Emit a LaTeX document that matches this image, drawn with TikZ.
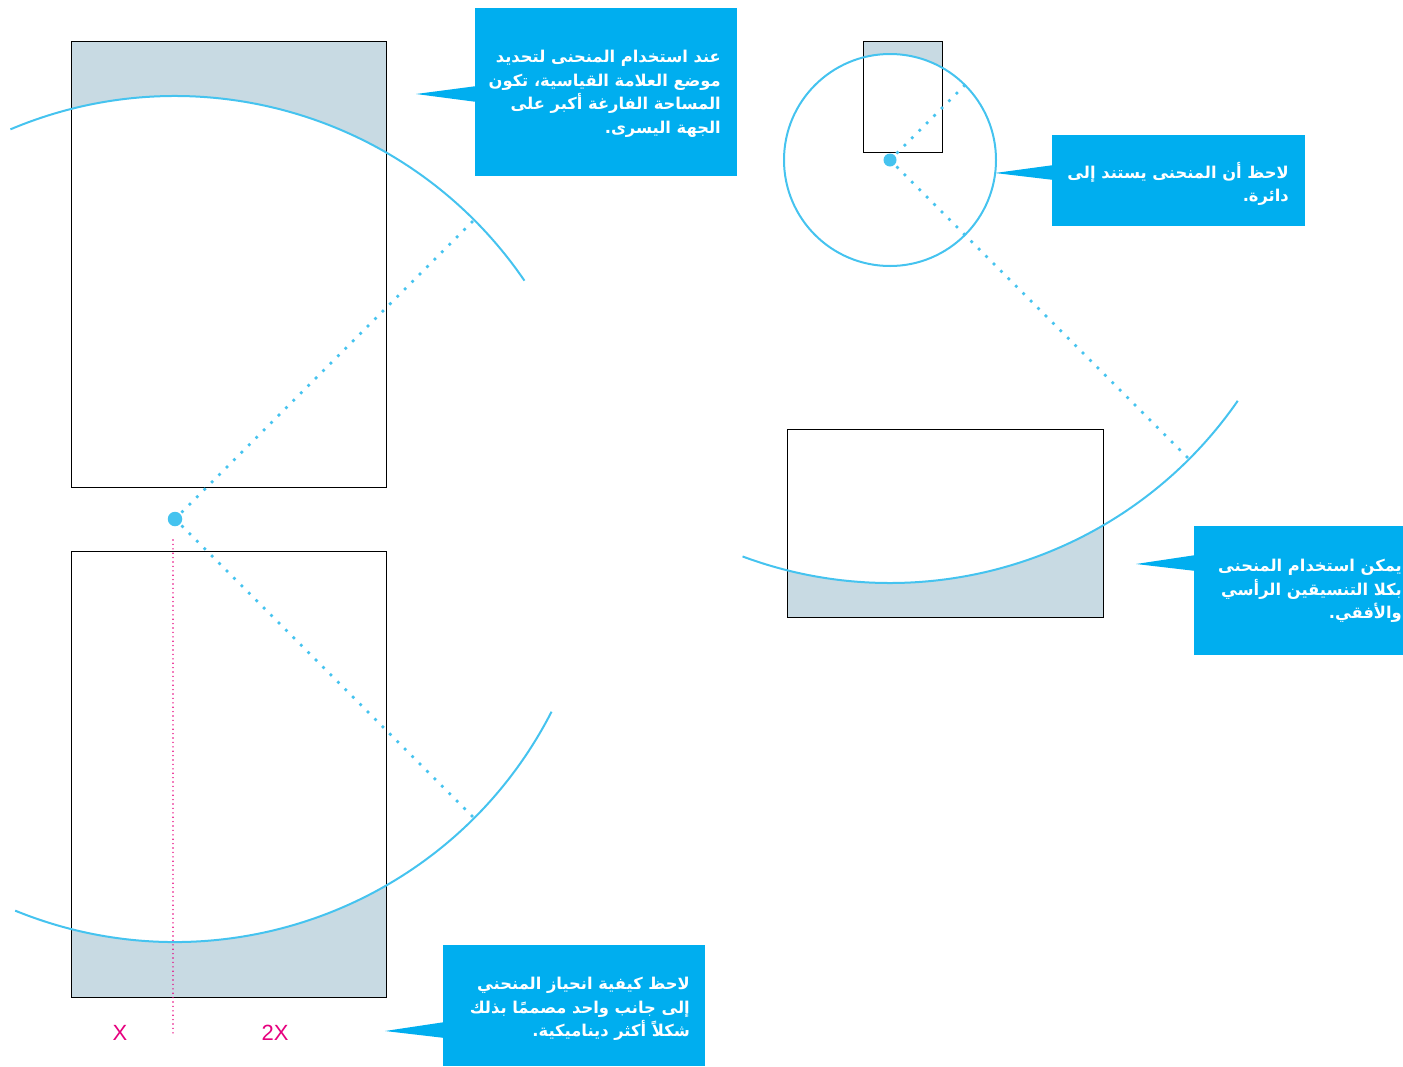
\documentclass[tikz,border=0pt]{standalone}
\usepackage{fontspec}
\usetikzlibrary{calc}
\setmainfont{Liberation Sans}
\newfontfamily\arabicfont[Script=Arabic]{DejaVu Sans}
\TeXXeTstate=1
\definecolor{callc}{HTML}{00AEEF}
\definecolor{arcc}{HTML}{45C3EF}
\definecolor{fillc}{HTML}{C8DAE3}
\definecolor{pinkc}{HTML}{E6007E}
\tikzset{
  curve/.style={draw=arcc, line width=2pt},
  radial/.style={draw=arcc, line width=3.8pt, line cap=round, dash pattern=on 0pt off 10.5pt},
  frame/.style={draw=black, line width=1pt},
  shade/.style={fill=fillc, even odd rule},
  callbox/.style={fill=callc, inner sep=0pt, anchor=north west},
  pointer/.style={fill=callc},
  calltext/.style={text=white, font=\arabicfont\bfseries\fontsize{16.3}{23.5}\selectfont, align=right, inner sep=0pt, anchor=north east},
  centre/.style={circle, fill=arcc, inner sep=0pt, minimum size=14.5pt},
  guide/.style={draw=pinkc, line width=1.6pt, line cap=round, dash pattern=on 0pt off 4.4pt},
  measure/.style={text=pinkc, font=\fontsize{22}{24}\selectfont, inner sep=0pt}
}
\begin{document}
\begin{tikzpicture}[x=1pt,y=-1pt]
\useasboundingbox (0,0) rectangle (1403,1066);
\clip (0,0) rectangle (1403,1066);
% ---------- left construction ----------
\coordinate (C1) at (175,519);
\begin{scope}
  \clip (71,41) rectangle (386,487);
  \path[shade] (71,41) rectangle (386,487) (C1) circle[radius=423];
\end{scope}
\begin{scope}
  \clip (71,551) rectangle (386,997);
  \path[shade] (71,551) rectangle (386,997) (C1) circle[radius=423];
\end{scope}
\node[frame, anchor=north west, minimum width=315pt, minimum height=446pt, inner sep=0pt] (r1) at (71,41) {};
\node[frame, anchor=north west, minimum width=315pt, minimum height=446pt, inner sep=0pt] (r2) at (71,551) {};
\draw[curve] (C1) ++(-112.9:423) arc[start angle=-112.9, end angle=-34.3, radius=423];
\draw[curve] (C1) ++(112.2:423) arc[start angle=112.2, end angle=27.1, radius=423];
\coordinate (E1) at ($(C1)+(-45:423)$);
\coordinate (E2) at ($(C1)+(45:423)$);
\draw[radial] (C1) -- (E1);
\draw[radial] (C1) -- (E2);
\node[centre] (c1) at (C1) {};
\coordinate (G1) at (173,540);
\coordinate (G2) at (173,1037);
\draw[guide] (G1) -- (G2);
\node[measure] (mx) at (120,1033) {X};
\node[measure] (m2x) at (275,1033) {2X};
% ---------- right construction ----------
\coordinate (C2) at (890,160);
\begin{scope}
  \clip (863,41) rectangle (942,152);
  \path[shade] (863,41) rectangle (942,152) (C2) circle[radius=106];
\end{scope}
\begin{scope}
  \clip (787,429) rectangle (1103,617);
  \path[shade] (787,429) rectangle (1103,617) (C2) circle[radius=423];
\end{scope}
\node[frame, anchor=north west, minimum width=79pt, minimum height=111pt, inner sep=0pt] (r3) at (863,41) {};
\node[frame, anchor=north west, minimum width=316pt, minimum height=188pt, inner sep=0pt] (r4) at (787,429) {};
\draw[curve] (C2) circle[radius=106];
\draw[curve] (C2) ++(110.4:423) arc[start angle=110.4, end angle=34.7, radius=423];
\coordinate (E3) at ($(C2)+(-45:106)$);
\coordinate (E4) at ($(C2)+(45:423)$);
\draw[radial] (C2) -- (E3);
\draw[radial] (C2) -- (E4);
\node[centre, minimum size=13pt] (c2) at (C2) {};
% ---------- callouts ----------
\node[callbox, minimum width=262pt, minimum height=168pt] (b1) at (475,8) {};
\coordinate (t1) at (416,94);
\fill[pointer] (t1) -- (477,86) -- (477,102) -- cycle;
\node[calltext] (x1) at (721,50) {\beginR عند استخدام المنحنى لتحديد\endR\\\beginR موضع العلامة القياسية، تكون\endR\\\beginR المساحة الفارغة أكبر على\endR\\\beginR الجهة اليسرى.\endR};

\node[callbox, minimum width=253pt, minimum height=91pt] (b2) at (1052,135) {};
\coordinate (t2) at (995,173);
\fill[pointer] (t2) -- (1054,165) -- (1054,180) -- cycle;
\node[calltext] (x2) at (1289,162) {\beginR لاحظ أن المنحنى يستند إلى\endR\\\beginR دائرة.\endR};

\node[callbox, minimum width=240pt, minimum height=129pt] (b3) at (1194,526) {};
\coordinate (t3) at (1136,564);
\fill[pointer] (t3) -- (1196,555) -- (1196,571) -- cycle;
\node[calltext] (x3) at (1402,559) {\beginR يمكن استخدام المنحنى\endR\\\beginR بكلا التنسيقين الرأسي\endR\\\beginR والأفقي.\endR};

\node[callbox, minimum width=262pt, minimum height=121pt] (b4) at (443,945) {};
\coordinate (t4) at (385,1031);
\fill[pointer] (t4) -- (445,1022) -- (445,1038) -- cycle;
\node[calltext] (x4) at (690,977) {\beginR لاحظ كيفية انحياز المنحني\endR\\\beginR إلى جانب واحد مصممًا بذلك\endR\\\beginR شكلاً أكثر ديناميكية.\endR};
\end{tikzpicture}
\end{document}
